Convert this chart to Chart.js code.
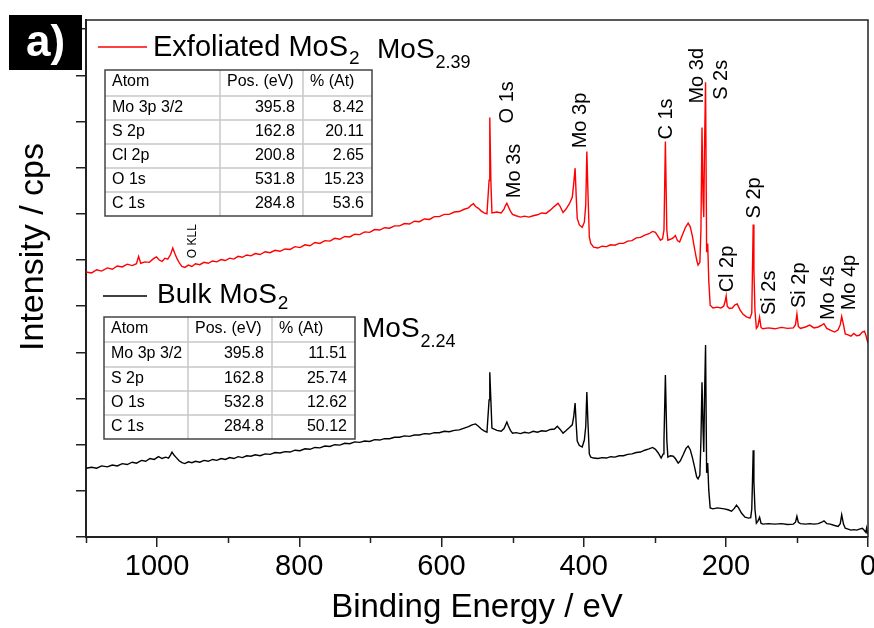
<!DOCTYPE html>
<html>
<head>
<meta charset="utf-8">
<script src="https://cdn.jsdelivr.net/npm/chart.js@4.4.1/dist/chart.umd.min.js"></script>
<style>
  html, body { margin: 0; padding: 0; background: #fff; }
</style>
</head>
<body>
<canvas id="xps-survey-chart" width="874" height="628"></canvas>
<script>
// XPS survey spectra (binding energy in eV, intensity in arbitrary cps units)
const exfEnergy = [
  1100, 1092, 1085, 1078, 1070, 1063, 1056, 1049, 1042, 1035, 1029, 1026, 1023, 1017, 1011, 1005, 1001, 997, 993, 989,
  985, 981, 978, 975, 972, 968, 965, 961, 956, 951, 946, 940, 934, 928, 922, 916, 910, 904, 898, 892,
  886, 880, 874, 868, 862, 855, 848, 841, 834, 827, 820, 813, 806, 799, 792, 785, 778, 771, 764, 757,
  750, 743, 736, 729, 722, 715, 708, 701, 694, 687, 680, 673, 666, 659, 652, 645, 638, 631, 624, 617,
  610, 603, 596, 589, 582, 575, 568, 562, 558, 555, 552, 548, 544, 540, 536, 533, 532, 530.5, 529, 522,
  516, 512, 510, 508, 506, 503, 500, 495, 489, 483, 477, 471, 465, 459, 453, 447, 443, 439, 436, 433,
  429, 425, 420, 416, 414, 412, 410.5, 409, 406, 402, 399, 397, 395.5, 394, 392, 390, 386, 380, 374, 368,
  362, 356, 350, 344, 338, 332, 326, 320, 314, 308, 303, 299, 296, 292, 289, 287, 285, 283, 281.5, 278,
  274, 271, 268, 265, 261, 257, 253, 250, 247, 244, 241, 239, 236.5, 235, 233.5, 232, 231, 230, 228.5, 227,
  225.5, 224, 222, 218, 212, 207, 203, 201, 199.5, 198, 195, 191, 187, 184, 180, 176, 171, 166, 163.5, 162.5,
  161.5, 160.5, 159, 157, 155, 152.5, 150.5, 148, 140, 131, 122, 113, 105, 102, 100, 98, 95, 88, 82, 76,
  70, 65, 62, 58, 53, 47, 42, 39, 37, 34.5, 32, 28, 24, 20, 16, 12, 8, 5, 3, 1, 0
];
const exfIntensity = [
  57.4, 57.2, 57.9, 57.6, 58.3, 58.0, 58.7, 58.5, 59.1, 58.8, 59.2, 60.8, 59.3, 59.6, 59.5, 60.3, 60.7, 60.0, 59.7, 60.4,
  60.2, 61.2, 62.6, 61.4, 60.3, 59.2, 58.6, 58.4, 58.9, 58.6, 59.2, 59.0, 59.5, 59.3, 59.8, 59.6, 60.1, 59.9, 60.4, 60.2,
  60.8, 60.6, 61.1, 60.9, 61.4, 61.2, 61.8, 61.6, 62.1, 61.9, 62.4, 62.3, 62.9, 62.7, 63.3, 63.1, 63.8, 63.6, 64.2, 64.1,
  64.7, 64.5, 65.1, 65.0, 65.6, 65.5, 66.1, 66.0, 66.6, 66.5, 67.0, 66.9, 67.4, 67.4, 67.9, 67.8, 68.4, 68.3, 68.9, 68.8,
  69.4, 69.4, 69.9, 69.9, 70.4, 70.5, 71.0, 71.3, 71.9, 72.2, 71.6, 71.2, 70.6, 70.2, 70.0, 77.3, 90.9, 77.3, 70.2, 70.4,
  70.2, 71.0, 71.8, 72.3, 71.6, 70.6, 69.9, 69.6, 69.3, 69.5, 69.3, 69.6, 69.8, 70.2, 70.1, 70.8, 71.4, 71.9, 72.3, 71.6,
  70.3, 71.0, 72.2, 73.6, 76.5, 79.9, 74.0, 69.0, 67.6, 67.1, 68.2, 72.0, 83.5, 75.0, 65.0, 63.6, 62.8, 62.6, 63.0, 62.9,
  63.3, 63.2, 63.6, 63.6, 64.1, 64.2, 64.8, 64.9, 65.4, 65.7, 66.2, 66.0, 65.3, 64.3, 64.6, 66.5, 85.7, 66.5, 64.3, 64.5,
  64.8, 65.3, 64.2, 63.9, 65.5, 67.0, 68.0, 67.2, 65.2, 62.5, 60.0, 58.9, 59.5, 66.5, 88.7, 72.9, 69.3, 83.8, 98.5, 61.7,
  63.6, 55.6, 50.2, 49.6, 49.8, 49.6, 50.0, 51.0, 52.2, 50.0, 49.5, 49.6, 50.3, 50.5, 49.2, 48.3, 47.7, 47.4, 48.5, 58.0,
  67.7, 58.0, 49.0, 45.2, 45.6, 47.6, 45.4, 45.1, 45.3, 45.1, 45.4, 45.2, 45.3, 46.0, 48.3, 45.6, 45.2, 45.5, 45.9, 45.3,
  45.5, 45.9, 46.2, 45.2, 44.8, 44.4, 44.9, 46.0, 47.8, 46.0, 44.0, 43.8, 43.5, 44.1, 43.6, 43.7, 44.4, 44.6, 43.7, 42.5, 42.0
];

const bulkEnergy = [
  1100, 1092, 1085, 1078, 1070, 1063, 1056, 1049, 1042, 1035, 1029, 1022, 1016, 1010, 1004, 998, 993, 988, 984, 981,
  979, 976, 973, 969, 965, 961, 956, 951, 946, 940, 934, 928, 922, 916, 910, 904, 898, 892, 886, 880,
  874, 868, 862, 855, 848, 841, 834, 827, 820, 813, 806, 799, 792, 785, 778, 771, 764, 757, 750, 743,
  736, 729, 722, 715, 708, 701, 694, 687, 680, 673, 666, 659, 652, 645, 638, 631, 624, 617, 610, 603,
  596, 589, 582, 575, 568, 562, 557, 552, 548, 544, 540, 536, 533, 532, 530.5, 529, 522, 516, 512, 510,
  508, 506, 503, 500, 495, 489, 483, 477, 471, 465, 459, 453, 447, 441, 437, 433, 429, 425, 420, 416,
  414, 412, 410.5, 409, 406, 402, 399, 397, 395.5, 394, 392, 390, 386, 380, 374, 368, 362, 356, 350, 344,
  338, 332, 326, 320, 314, 308, 303, 299, 295, 291, 288, 287, 285, 283, 281.5, 278, 274, 271, 267, 264,
  260, 256, 253, 250, 247, 244, 241, 239, 236.5, 235, 233.5, 232, 231, 230, 228.5, 227, 225.5, 224, 222, 218,
  212, 207, 202, 197, 192, 188, 185, 182, 178, 173, 168, 165, 163.5, 162.5, 161.5, 160.5, 159, 157, 155, 152.5,
  150.5, 148, 140, 131, 122, 113, 105, 102, 100, 98, 95, 88, 82, 76, 70, 65, 62, 58, 53, 47,
  42, 39, 37, 34.5, 32, 28, 24, 20, 16, 12, 8, 5, 3, 2, 0.5
];
const bulkIntensity = [
  14.9, 15.1, 14.9, 15.4, 15.2, 15.6, 15.4, 15.9, 15.7, 16.2, 16.0, 16.6, 16.4, 17.0, 16.8, 17.4, 17.0, 17.3, 17.1, 17.8,
  18.4, 17.7, 17.2, 16.5, 16.1, 15.9, 16.3, 16.1, 16.4, 16.2, 16.6, 16.4, 16.8, 16.6, 17.0, 16.8, 17.2, 17.0, 17.4, 17.2,
  17.6, 17.5, 17.8, 17.6, 18.0, 17.9, 18.3, 18.2, 18.5, 18.4, 18.8, 18.7, 19.1, 19.0, 19.4, 19.3, 19.7, 19.6, 20.0, 19.9,
  20.3, 20.2, 20.6, 20.5, 20.8, 20.7, 21.1, 21.0, 21.3, 21.3, 21.6, 21.6, 21.9, 21.8, 22.1, 22.1, 22.4, 22.3, 22.6, 22.6,
  22.9, 22.8, 23.1, 23.2, 23.6, 23.9, 24.3, 24.5, 24.0, 23.4, 23.0, 22.7, 29.7, 35.7, 29.7, 23.6, 23.1, 22.9, 23.5, 24.2,
  24.9, 24.1, 23.1, 22.5, 22.6, 22.4, 22.7, 22.5, 22.9, 22.7, 23.0, 22.9, 23.3, 23.4, 24.0, 23.3, 22.5, 23.0, 23.7, 24.3,
  26.0, 29.0, 24.5, 20.8, 19.8, 19.5, 21.0, 24.0, 31.4, 25.0, 18.0, 17.3, 17.1, 17.0, 17.2, 17.1, 17.4, 17.3, 17.6, 17.6,
  17.9, 18.0, 18.3, 18.4, 18.8, 19.1, 19.4, 19.0, 18.2, 17.1, 18.0, 21.0, 35.1, 21.0, 17.3, 17.6, 17.5, 17.0, 16.0, 16.5,
  17.8, 19.2, 19.7, 18.9, 17.2, 15.2, 13.0, 12.6, 13.4, 21.0, 33.5, 23.2, 18.4, 29.7, 41.6, 13.9, 16.0, 10.2, 6.3, 6.1,
  6.3, 6.2, 6.1, 5.9, 5.6, 6.2, 6.9, 6.3, 5.2, 4.3, 4.1, 4.2, 6.0, 12.0, 18.8, 12.0, 6.0, 3.0, 3.4, 4.3,
  3.0, 2.8, 2.9, 2.8, 2.9, 2.7, 2.8, 3.2, 4.5, 3.2, 2.9, 2.8, 2.9, 2.8, 2.9, 3.2, 3.5, 2.9, 2.8, 2.5,
  2.3, 2.9, 4.8, 2.8, 1.9, 1.7, 1.5, 1.6, 1.5, 1.7, 1.9, 1.4, 1.0, 1.9, 0.6
];

// peak assignments, anchored at (binding energy, intensity) where the rotated text starts
const peakNames = ['O 1s', 'Mo 3s', 'Mo 3p', 'C 1s', 'Mo 3d', 'S 2s', 'S 2p', 'Cl 2p', 'Si 2s', 'Si 2p', 'Mo 4s', 'Mo 4p'];
const peakLabelEnergy = [499, 489.5, 397, 276, 232, 198.5, 152, 190, 131, 89, 48, 18.5];
const peakLabelLevel = [89.6, 73.4, 84.2, 86.1, 93.9, 94.7, 69.0, 53.0, 48.1, 49.6, 47.0, 49.1];

// quantification tables
const tableHeader = ['Atom', 'Pos. (eV)', '% (At)'];
const exfAtoms = ['Mo 3p 3/2', 'S 2p', 'Cl 2p', 'O 1s', 'C 1s'];
const exfPos = ['395.8', '162.8', '200.8', '531.8', '284.8'];
const exfPct = ['8.42', '20.11', '2.65', '15.23', '53.6'];
const bulkAtoms = ['Mo 3p 3/2', 'S 2p', 'O 1s', 'C 1s'];
const bulkPos = ['395.8', '162.8', '532.8', '284.8'];
const bulkPct = ['11.51', '25.74', '12.62', '50.12'];

const FONT = '"Liberation Sans", Arial, Helvetica, sans-serif';

function toPoints(xs, ys) {
    return xs.map((x, i) => ({ x: x, y: ys[i] }));
}

function drawTable(ctx, cols, rowTops, rows) {
    const left = cols[0], right = cols[cols.length - 1];
    const top = rowTops[0], bottom = rowTops[rowTops.length - 1];
    ctx.fillStyle = '#fff';
    ctx.fillRect(left, top, right - left, bottom - top);
    // inner grid
    ctx.strokeStyle = '#c8c8c8';
    ctx.lineWidth = 1.5;
    ctx.beginPath();
    for (let i = 1; i < cols.length - 1; i++) {
        ctx.moveTo(cols[i], top); ctx.lineTo(cols[i], bottom);
    }
    for (let j = 1; j < rowTops.length - 1; j++) {
        ctx.moveTo(left, rowTops[j]); ctx.lineTo(right, rowTops[j]);
    }
    ctx.stroke();
    ctx.strokeStyle = '#444';
    ctx.lineWidth = 1.5;
    ctx.strokeRect(left, top, right - left, bottom - top);

    ctx.fillStyle = '#000';
    ctx.font = '16px ' + FONT;
    ctx.textBaseline = 'alphabetic';
    rows.forEach((row, j) => {
        const base = rowTops[j] + 16;
        row.forEach((cell, i) => {
            if (j === 0 || i === 0) {
                ctx.textAlign = 'left';
                ctx.fillText(cell, cols[i] + 7, base);
            } else {
                ctx.textAlign = 'right';
                ctx.fillText(cell, cols[i + 1] - 8, base);
            }
        });
    });
}

function drawLegendLine(ctx, color, x0, x1, lineY) {
    ctx.strokeStyle = color;
    ctx.lineWidth = 1.5;
    ctx.beginPath();
    ctx.moveTo(x0, lineY); ctx.lineTo(x1, lineY);
    ctx.stroke();
}

function drawFormula(ctx, x, base, main, sub, sizeMain, sizeSub, subDrop) {
    ctx.fillStyle = '#000';
    ctx.textAlign = 'left';
    ctx.textBaseline = 'alphabetic';
    ctx.font = sizeMain + 'px ' + FONT;
    ctx.fillText(main, x, base);
    const w = ctx.measureText(main).width;
    ctx.font = sizeSub + 'px ' + FONT;
    ctx.fillText(sub, x + w + 1, base + subDrop);
}

const decorPlugin = {
    id: 'xpsDecor',
    beforeDraw(chart) {
        const ctx = chart.ctx;
        ctx.save();
        ctx.fillStyle = '#fff';
        ctx.fillRect(0, 0, chart.width, chart.height);
        ctx.restore();
    },
    afterDraw(chart) {
        const { ctx, chartArea: a, scales: { x, y } } = chart;
        ctx.save();

        // frame: top and right
        ctx.strokeStyle = '#222';
        ctx.lineWidth = 1.5;
        ctx.beginPath();
        ctx.moveTo(a.left, a.top); ctx.lineTo(a.right, a.top); ctx.lineTo(a.right, a.bottom);
        ctx.stroke();

        // minor ticks on x axis
        ctx.beginPath();
        for (let v = 100; v <= 1100; v += 200) {
            const px = Math.round(x.getPixelForValue(v)) + 0.5;
            ctx.moveTo(px, a.bottom); ctx.lineTo(px, a.bottom + 6);
        }
        ctx.stroke();

        // y-axis title
        ctx.save();
        ctx.translate(43, 247);
        ctx.rotate(-Math.PI / 2);
        ctx.fillStyle = '#000';
        ctx.font = '34px ' + FONT;
        ctx.textAlign = 'center';
        ctx.textBaseline = 'alphabetic';
        ctx.fillText('Intensity / cps', 0, 0);
        ctx.restore();

        // peak labels
        ctx.fillStyle = '#000';
        ctx.font = '20px ' + FONT;
        ctx.textAlign = 'left';
        ctx.textBaseline = 'alphabetic';
        peakNames.forEach((name, i) => {
            ctx.save();
            ctx.translate(x.getPixelForValue(peakLabelEnergy[i]), y.getPixelForValue(peakLabelLevel[i]));
            ctx.rotate(-Math.PI / 2);
            ctx.fillText(name, 0, 0);
            ctx.restore();
        });
        ctx.save();
        ctx.font = '12px ' + FONT;
        ctx.translate(x.getPixelForValue(945), y.getPixelForValue(60.4));
        ctx.rotate(-Math.PI / 2);
        ctx.fillText('O KLL', 0, 0);
        ctx.restore();

        // tables
        drawTable(ctx, [105, 220, 303, 372], [70, 96, 120, 144, 168, 192, 216],
            [tableHeader].concat(exfAtoms.map((n, i) => [n, exfPos[i], exfPct[i]])));
        drawTable(ctx, [104, 188, 272, 355], [317, 342, 367, 391, 415, 439],
            [tableHeader].concat(bulkAtoms.map((n, i) => [n, bulkPos[i], bulkPct[i]])));

        // legend entries and stoichiometry
        drawLegendLine(ctx, '#ff0000', 98, 147, 47);
        drawFormula(ctx, 153, 56, 'Exfoliated MoS', '2', 29, 19, 8);
        drawFormula(ctx, 377, 58, 'MoS', '2.39', 28, 18, 10);
        drawLegendLine(ctx, '#000000', 103, 147, 296);
        drawFormula(ctx, 157, 303, 'Bulk MoS', '2', 28, 19, 6);
        drawFormula(ctx, 362, 337, 'MoS', '2.24', 28, 18, 10);

        // panel tag
        ctx.fillStyle = '#000';
        ctx.fillRect(9, 15, 73, 55);
        ctx.fillStyle = '#fff';
        ctx.font = 'bold 44px ' + FONT;
        ctx.textAlign = 'left';
        ctx.fillText('a)', 26, 56);

        ctx.restore();
    }
};

new Chart(document.getElementById('xps-survey-chart').getContext('2d'), {
    type: 'line',
    data: {
        datasets: [{
            label: 'Exfoliated MoS2',
            data: toPoints(exfEnergy, exfIntensity),
            borderColor: '#ff0000',
            borderWidth: 1.4,
            pointRadius: 0,
            tension: 0,
            fill: false
        }, {
            label: 'Bulk MoS2',
            data: toPoints(bulkEnergy, bulkIntensity),
            borderColor: '#000000',
            borderWidth: 1.4,
            pointRadius: 0,
            tension: 0,
            fill: false
        }]
    },
    options: {
        responsive: false,
        animation: false,
        layout: {
            autoPadding: false,
            padding: { top: 20, right: 6, left: 0, bottom: 0 }
        },
        scales: {
            x: {
                type: 'linear',
                reverse: true,
                min: 0,
                max: 1100,
                afterFit: function(scale) {
                    scale.height = 91;
                    scale.paddingLeft = 0;
                    scale.paddingRight = 0;
                },
                ticks: {
                    stepSize: 200,
                    includeBounds: false,
                    maxRotation: 0,
                    autoSkip: false,
                    padding: 3,
                    color: '#000',
                    font: { family: FONT, size: 29 },
                    callback: function(value) { return String(value); }
                },
                grid: { drawOnChartArea: false, drawTicks: true, tickLength: 10, color: '#222', lineWidth: 1.5 },
                border: { display: true, color: '#222', width: 2 },
                title: {
                    display: true,
                    text: 'Binding Energy / eV',
                    color: '#000',
                    font: { family: FONT, size: 33 },
                    padding: { top: 0, bottom: 0 }
                }
            },
            y: {
                min: 0,
                max: 112,
                afterFit: function(scale) {
                    scale.width = 86;
                    scale.paddingTop = 0;
                    scale.paddingBottom = 0;
                },
                ticks: { stepSize: 10, includeBounds: false, display: false },
                grid: { drawOnChartArea: false, drawTicks: true, tickLength: 10, color: '#222', lineWidth: 1.5 },
                border: { display: true, color: '#222', width: 2 }
            }
        },
        plugins: {
            legend: { display: false },
            tooltip: { enabled: false }
        }
    },
    plugins: [decorPlugin]
});
</script>
</body>
</html>
